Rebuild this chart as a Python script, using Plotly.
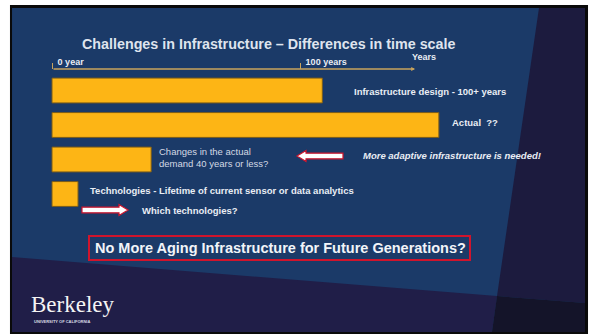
import plotly.graph_objects as go

# data (time scale in years)
categories = ["Infrastructure design", "Actual", "Changes in demand", "Technologies"]
years = [109, 156, 40, 10.5]
tick_vals = [0, 100]
tick_text = ["\u00a0\u00a0<b>0 year</b>", "\u00a0\u00a0<b>100 years</b>"]
axis_end = 146.4

W, H = 601, 335

def px(x):
    return x / W

def py(y):
    return 1 - y / H

# x scale: 0 year at 52px, 100 years at 300px
ppy = (300 - 52) / 100
x0 = -52 / ppy
x1 = x0 + W / ppy

# y scale: first bar centred at 90.5px, 34.5px between bars
row = 34.5
ytop = -90.5 / row
ybot = ytop + H / row

GOLD = "#FDB515"
TXT = "#e9edf4"
FONT = "Liberation Sans, Arial, sans-serif"

fig = go.Figure()
fig.add_trace(go.Bar(
    x=years, y=categories, orientation="h", width=0.72,
    marker=dict(color=GOLD, line=dict(color="#7a5c1a", width=1)),
    hoverinfo="x+y",
))

# slide background
def poly(pts, color):
    d = "M " + " L ".join(f"{px(a):.4f},{py(b):.4f}" for a, b in pts) + " Z"
    return dict(type="path", path=d, xref="paper", yref="paper",
                fillcolor=color, line=dict(width=0), layer="below")

shapes = [
    poly([(10, 5), (588, 5), (588, 334), (10, 334)], "#0a0a0a"),
    poly([(12, 8), (585, 8), (585, 332), (12, 332)], "#1b3a68"),
    poly([(12, 257), (497, 296), (492, 332), (12, 332)], "#201e48"),
    poly([(539, 8), (585, 8), (585, 303), (497, 296)], "#1c1b3e"),
    poly([(497, 296), (585, 303), (585, 332), (492, 332)], "#141429"),
]

# block arrows (white with red outline)
def block_arrow(tail, tip, yc, shaft, head, hlen):
    s = 1 if tip > tail else -1
    hb = tip - s * hlen
    pts = [(tail, yc - shaft), (hb, yc - shaft), (hb, yc - head), (tip, yc),
           (hb, yc + head), (hb, yc + shaft), (tail, yc + shaft)]
    d = "M " + " L ".join(f"{px(a):.4f},{py(b):.4f}" for a, b in pts) + " Z"
    return dict(type="path", path=d, xref="paper", yref="paper",
                fillcolor="white", line=dict(color="#d0142c", width=1.2))

shapes.append(block_arrow(343, 297, 156, 2.8, 5.5, 9))
shapes.append(block_arrow(82, 128, 210, 2.8, 5.5, 9))

# red box round the closing question
shapes.append(dict(type="rect", xref="paper", yref="paper",
                   x0=px(89), x1=px(470), y0=py(236), y1=py(260),
                   line=dict(color="#d0142c", width=2)))

fig.update_layout(shapes=shapes)

# time axis line with arrow head
fig.add_annotation(x=axis_end, y=py(69), xref="x", yref="paper",
                   ax=0, ay=0, axref="x", ayref="pixel", text="",
                   showarrow=True, arrowhead=2, arrowsize=0.6, arrowwidth=1.3,
                   arrowcolor="#c9a45c")

def label(text, x, y, size=9.5, bold=True, italic=False, color=TXT,
          anchor="left", family=FONT):
    if bold:
        text = f"<b>{text}</b>"
    if italic:
        text = f"<i>{text}</i>"
    fig.add_annotation(x=px(x), y=py(y), xref="paper", yref="paper",
                       text=text, showarrow=False, xanchor=anchor,
                       yanchor="middle", align="left",
                       font=dict(size=size, color=color, family=family))

label("Challenges in Infrastructure \u2013 Differences in time scale", 268, 44,
      size=14.3, anchor="center", color="#dfe4ee")
label("Years", 410, 57, size=9)
label("Infrastructure design - 100+ years", 352, 91)
label("Actual  ??", 450, 122)
label("Changes in the actual<br>demand 40 years or less?", 157, 157,
      bold=False, color="#d3d9e4")
label("More adaptive infrastructure is needed!", 361, 156, italic=True)
label("Technologies - Lifetime of current sensor or data analytics", 88, 190)
label("Which technologies?", 140, 211)
label("No More Aging Infrastructure for Future Generations?", 280, 248,
      size=14.5, anchor="center", color="#f2f4f8")
label("Berkeley", 29, 304, size=23, bold=False, color="#f4f4f4",
      family="Liberation Serif, Times New Roman, serif")
label("UNIVERSITY OF CALIFORNIA", 32, 321, size=4, color="#d8dbe4")

fig.update_layout(
    width=W, height=H,
    margin=dict(l=0, r=0, t=0, b=0),
    paper_bgcolor="white", plot_bgcolor="rgba(0,0,0,0)",
    showlegend=False,
    xaxis=dict(range=[x0, x1], anchor="free", position=py(69), side="top",
               tickvals=tick_vals, ticktext=tick_text, ticks="outside",
               ticklen=6, tickwidth=1.2, tickcolor="#c9a45c",
               ticklabelposition="outside right",
               tickfont=dict(size=9, color=TXT, family=FONT),
               showgrid=False, zeroline=False, showline=False),
    yaxis=dict(range=[ybot, ytop], showticklabels=False, showgrid=False,
               zeroline=False, showline=False),
)

fig.write_html("out.html", config={"displayModeBar": False},
               post_script="document.body.style.margin='0';")
